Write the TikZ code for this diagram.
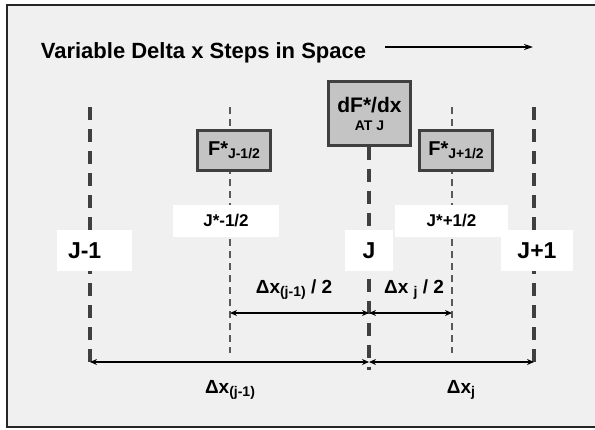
\documentclass[tikz,border=0pt]{standalone}
\usepackage{fontspec}
\setmainfont{Liberation Sans}
\usetikzlibrary{arrows.meta}
\definecolor{panel}{gray}{0.94}
\definecolor{boxfill}{gray}{0.77}
\definecolor{boxline}{gray}{0.25}
\newcommand{\fsz}[1]{\fontsize{#1}{#1}\selectfont}
\newcommand{\lowsub}[1]{\raisebox{-3pt}{\fsz{14}#1}}

\begin{document}
\begin{tikzpicture}[x=1pt,y=-1pt,
	thickline/.style={draw=black!75, line width=3.8pt, dash pattern=on 13pt off 9pt},
	thinline/.style={draw=black!65, line width=2pt, dash pattern=on 7pt off 5pt},
	fluxbox/.style={draw=boxline, fill=boxfill, line width=2.5pt, inner sep=0pt, font=\bfseries},
	gridlbl/.style={fill=white, inner sep=0pt, font=\bfseries},
	dimarrow/.style={{Stealth[length=7pt,width=6pt]}-{Stealth[length=7pt,width=6pt]}, line width=1.6pt},
	dimlbl/.style={inner sep=0pt, font=\bfseries\fsz{19}}]
	\useasboundingbox (0,0) rectangle (595,429);
	\clip (0,0) rectangle (595,429);
	\fill[white] (0,0) rectangle (595,429);
	\draw[fill=panel, draw=black!85, line width=2pt] (7,5) rectangle (605,427);

	% title and direction of space
	\node[inner sep=0pt, font=\bfseries\fsz{22}] (title) at (203.5,53) {Variable Delta x Steps in Space};
	\coordinate (dirA) at (385,47);
	\coordinate (dirB) at (533,47);
	\draw[-{Stealth[length=9pt,width=6pt]}, line width=1.4pt] (dirA) -- (dirB);

	% grid lines
	\coordinate (jm1top) at (90,107);   \coordinate (jm1bot) at (90,370);
	\coordinate (jmhtop) at (230,107);  \coordinate (jmhbot) at (230,353);
	\coordinate (jbot) at (369,370);
	\coordinate (jphtop) at (452,107);  \coordinate (jphbot) at (452,353);
	\coordinate (jp1top) at (534,107);  \coordinate (jp1bot) at (534,370);
	\draw[thickline] (jm1top) -- (jm1bot);
	\draw[thickline] (jp1top) -- (jp1bot);
	\draw[thinline] (jmhtop) -- (jmhbot);
	\draw[thinline] (jphtop) -- (jphbot);

	% flux boxes
	\node[fluxbox, minimum width=82pt, minimum height=64pt, align=center] (dfdx) at (369.5,113.5)
		{\fsz{21}dF*/dx\\[6pt]\fsz{14}AT J};
	\draw[thickline] (dfdx.south -| jbot) -- (jbot);
	\node[fluxbox, minimum width=73pt, minimum height=40pt] (fmh) at (234,150.5)
		{\fsz{20}F*\lowsub{J-1/2}};
	\node[fluxbox, minimum width=73pt, minimum height=40pt] (fph) at (456,150.5)
		{\fsz{20}F*\lowsub{J+1/2}};

	% grid point labels
	\node[gridlbl, minimum height=41pt] (jm1) at (94.5,250.5) {\makebox[75pt][l]{\hspace{11pt}\fsz{23}J-1}};
	\node[gridlbl, minimum width=106pt, minimum height=32pt] (jmh) at (226,221) {\fsz{17}J*-1/2};
	\node[gridlbl, minimum width=113pt, minimum height=32pt] (jph) at (451.5,221) {\fsz{17}J*+1/2};
	\node[gridlbl, minimum width=48pt, minimum height=41pt] (j) at (369,250.5) {\fsz{23}J};
	\node[gridlbl, minimum width=72pt, minimum height=41pt] (jp1) at (537,250.5) {\fsz{23}J+1};

	% spacings
	\coordinate (hA) at (230,313); \coordinate (hB) at (369,313); \coordinate (hC) at (452,313);
	\coordinate (fA) at (90,362);  \coordinate (fB) at (369,362); \coordinate (fC) at (534,362);
	\draw[dimarrow] (hA) -- (hB);
	\draw[dimarrow] (hB) -- (hC);
	\draw[dimarrow] (fA) -- (fB);
	\draw[dimarrow] (fB) -- (fC);
	\node[dimlbl] (dxmh) at (294,290) {Δx\lowsub{(j-1)} / 2};
	\node[dimlbl] (dxph) at (414,290) {Δx \lowsub{j} / 2};
	\node[dimlbl] (dxm) at (230,390) {Δx\lowsub{(j-1)}};
	\node[dimlbl] (dxp) at (461,390) {Δx\lowsub{j}};
\end{tikzpicture}
\end{document}
